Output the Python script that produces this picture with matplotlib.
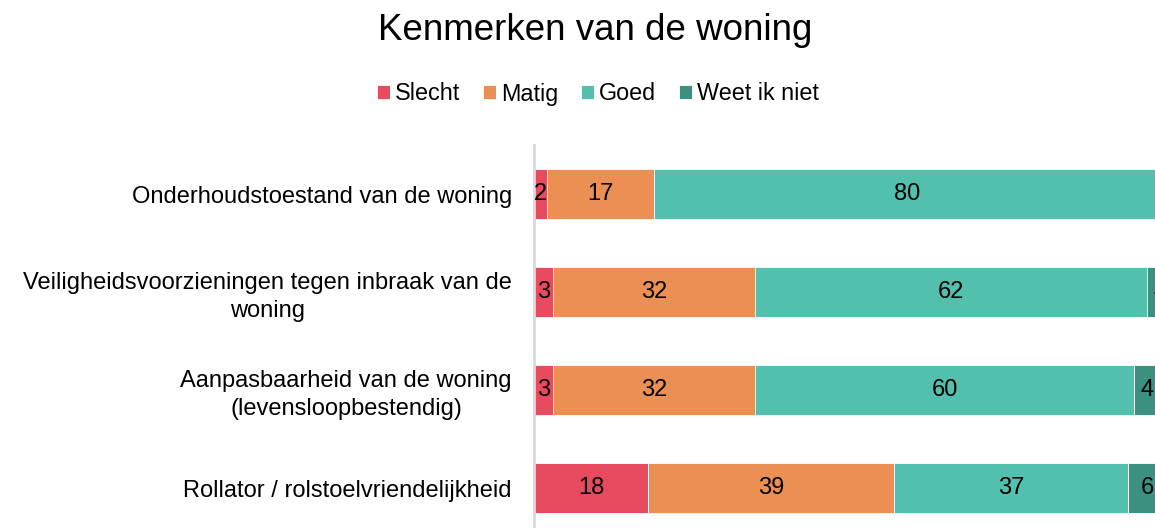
import numpy as np
import matplotlib.pyplot as plt

plt.rcParams['font.family'] = ['Liberation Sans', 'DejaVu Sans']

categorieen = [
    'Onderhoudstoestand van de woning',
    'Veiligheidsvoorzieningen tegen inbraak van de\nwoning',
    'Aanpasbaarheid van de woning\n(levensloopbestendig)',
    'Rollator / rolstoelvriendelijkheid',
]
reeksen = ['Slecht', 'Matig', 'Goed', 'Weet ik niet']
slecht = [2, 3, 3, 18]
matig = [17, 32, 32, 39]
goed = [80, 62, 60, 37]
weet_niet = [1, 4, 4, 6]
kleuren = ['#E84A5F', '#EC8F52', '#53BFAD', '#3C9080']

# %%
fig = plt.figure(figsize=(11.55, 5.28), dpi=100)
ax = fig.add_axes([534 / 1155, 1 - 537 / 528, 632 / 1155, (537 - 145) / 528])

y = np.arange(len(categorieen))
links = np.zeros(len(categorieen))
for naam, waarden, kleur in zip(reeksen, [slecht, matig, goed, weet_niet], kleuren):
    bars = ax.barh(y, waarden, left=links, height=0.51, color=kleur,
                   edgecolor='white', linewidth=0.6, label=naam)
    for rect, w in zip(bars, waarden):
        xc = rect.get_x() + w / 2
        if xc > 100:
            continue  # buiten beeld
        ax.text(xc, rect.get_y() + rect.get_height() / 2,
                str(w), ha='center', va='center', fontsize=17, color='black',
                clip_on=False)
    links += np.array(waarden)

ax.set_xlim(0, 100)
ax.set_ylim(3.5, -0.5)
ax.set_yticks(y)
ax.set_yticklabels(categorieen, fontsize=17, ha='right', multialignment='center',
                   linespacing=1.3)
ax.tick_params(axis='y', length=0, pad=16)
ax.set_xticks([])
for s in ['top', 'right', 'bottom']:
    ax.spines[s].set_visible(False)
ax.spines['left'].set_color('#D9D9D9')
ax.spines['left'].set_linewidth(2)

fig.text(595 / 1155, 1 - 31 / 528, 'Kenmerken van de woning', ha='center',
         va='center', fontsize=26.5)
fig.legend(loc='center', bbox_to_anchor=(598 / 1155, 1 - 94 / 528), ncol=4,
           frameon=False, fontsize=16.8, handlelength=0.55, handleheight=0.55,
           handletextpad=0.2, columnspacing=1.0)

fig.savefig('out.png', dpi=100)
